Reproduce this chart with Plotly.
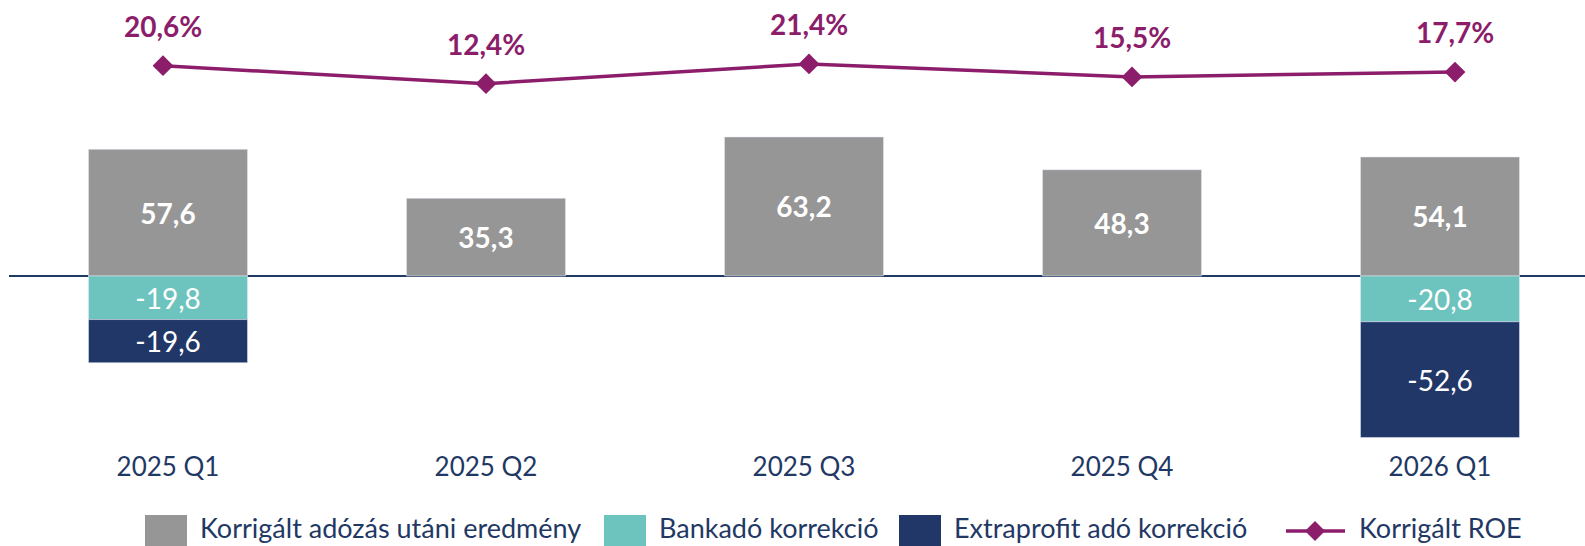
import plotly.graph_objects as go

categories = ["2025 Q1", "2025 Q2", "2025 Q3", "2025 Q4", "2026 Q1"]
profit = [57.6, 35.3, 63.2, 48.3, 54.1]
bank_tax = [-19.8, None, None, None, -20.8]
extra_tax = [-19.6, None, None, None, -52.6]
roe = [20.6, 12.4, 21.4, 15.5, 17.7]
names = ["Korrigált adózás utáni eredmény", "Bankadó korrekció",
         "Extraprofit adó korrekció", "Korrigált ROE"]

GRAY = "#969696"
TEAL = "#6DC3BD"
NAVY = "#213767"
PURPLE = "#8C1D6B"
TXT = "#1F3864"
FONT = "Lato"

W, H = 1585, 546
ML, MB = 9, 102
PW, PH = W - ML, H - MB

fig = go.Figure()
fig.add_bar(x=categories, y=profit, name=names[0], marker_color=GRAY,
            texttemplate="<b>%{y:.1f}</b>", textposition="inside",
            insidetextanchor="middle", constraintext="none",
            textfont=dict(family=FONT, size=28, color="white"),
            showlegend=False)
fig.add_bar(x=categories, y=bank_tax, name=names[1], marker_color=TEAL,
            texttemplate="%{y:.1f}", textposition="inside",
            insidetextanchor="middle", constraintext="none",
            textfont=dict(family=FONT, size=28, color="white"),
            showlegend=False)
fig.add_bar(x=categories, y=extra_tax, name=names[2], marker_color=NAVY,
            texttemplate="%{y:.1f}", textposition="inside",
            insidetextanchor="middle", constraintext="none",
            textfont=dict(family=FONT, size=28, color="white"),
            showlegend=False)
fig.add_scatter(x=categories, y=roe, name=names[3], mode="lines+markers",
                line=dict(color=PURPLE, width=3.5),
                marker=dict(symbol="diamond", size=16, color=PURPLE),
                xaxis="x2", yaxis="y2", showlegend=False, cliponaxis=False)

for c, v in zip(categories, roe):
    fig.add_annotation(x=c, y=v, xref="x2", yref="y2",
                       text=f"<b>{v:.1f}%</b>".replace(".", ","),
                       showarrow=False, yshift=40,
                       font=dict(family=FONT, size=28, color=PURPLE))

# manual legend (paper coordinates)
def px(x):
    return (x - ML) / PW

def py(y):
    return (PH - y) / PH

sq = [(145, GRAY, 198, names[0]), (604, TEAL, 657, names[1]), (899, NAVY, 952, names[2])]
for x0, col, tx, nm in sq:
    fig.add_shape(type="rect", xref="paper", yref="paper",
                  x0=px(x0), x1=px(x0 + 42), y0=py(548), y1=py(515),
                  fillcolor=col, line_width=0)
    fig.add_annotation(xref="paper", yref="paper", x=px(tx), y=py(546),
                       xanchor="left", yanchor="bottom", showarrow=False, text=nm,
                       font=dict(family=FONT, size=27, color=TXT))
fig.add_shape(type="line", xref="paper", yref="paper", x0=px(1286), x1=px(1345),
              y0=py(531), y1=py(531), line=dict(color=PURPLE, width=3.5))
cx, cy, r = 1315, 531, 10
fig.add_shape(type="path", xref="paper", yref="paper",
              path=f"M {px(cx - r)} {py(cy)} L {px(cx)} {py(cy - r)} L {px(cx + r)} {py(cy)} L {px(cx)} {py(cy + r)} Z",
              fillcolor=PURPLE, line_width=0)
fig.add_annotation(xref="paper", yref="paper", x=px(1357), y=py(546),
                   xanchor="left", yanchor="bottom", showarrow=False, text=names[3],
                   font=dict(family=FONT, size=27, color=TXT))

zero_px = 276
k1 = 2.2
k2 = 2.195
fig.update_layout(
    width=W, height=H, barmode="relative", bargap=0.5,
    separators=", ",
    margin=dict(l=ML, r=0, t=0, b=MB),
    plot_bgcolor="white", paper_bgcolor="white",
    xaxis=dict(range=[-0.5, -0.5 + PW / 318.0], showgrid=False, showline=False,
               ticks="", ticklabelstandoff=5,
               tickfont=dict(family=FONT, size=26, color=TXT)),
    xaxis2=dict(overlaying="x", range=[(ML - 163) / 323.0, (W - 163) / 323.0],
                visible=False),
    yaxis=dict(range=[-(PH - zero_px) / k1, zero_px / k1], showgrid=False,
               showticklabels=False, zeroline=True, zerolinecolor=TXT,
               zerolinewidth=2),
    yaxis2=dict(overlaying="y", range=[20.6 + 65.7 / k2 - PH / k2, 20.6 + 65.7 / k2],
                visible=False),
)

fig.write_html("out.html", config={"displayModeBar": False},
               post_script="document.body.style.margin='0';document.body.style.overflow='hidden';")
